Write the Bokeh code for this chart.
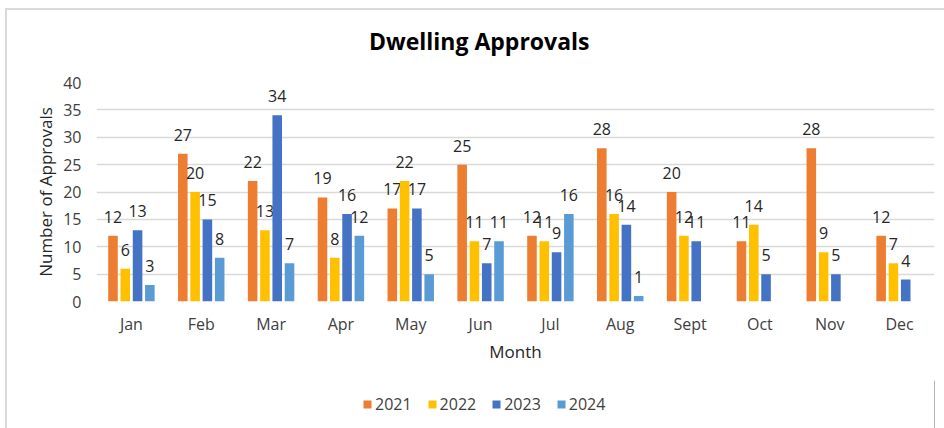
from bokeh.plotting import figure
from bokeh.layouts import column
from bokeh.models import (FactorRange, Range1d, ColumnDataSource, Legend,
                          LegendItem, FixedTicker, Div)
from bokeh.transform import dodge
from bokeh.core.properties import value
from bokeh.embed import file_html
from bokeh.resources import INLINE

months = ["Jan", "Feb", "Mar", "Apr", "May", "Jun", "Jul", "Aug", "Sept", "Oct", "Nov", "Dec"]
years = ["2021", "2022", "2023", "2024"]
v2021 = [12, 27, 22, 19, 17, 25, 12, 28, 20, 11, 28, 12]
v2022 = [6, 20, 13, 8, 22, 11, 11, 16, 12, 14, 9, 7]
v2023 = [13, 15, 34, 16, 17, 7, 9, 14, 11, 5, 5, 4]
v2024 = [3, 8, 7, 12, 5, 11, 16, 1, None, None, None, None]
y_ticks = [0, 5, 10, 15, 20, 25, 30, 35, 40]
title_text = "Dwelling Approvals"

colors = ["#ED7D31", "#FFC000", "#4472C4", "#5B9BD5"]
offsets = [-0.264, -0.088, 0.088, 0.264]
FONT = "Open Sans"

series = [v2021, v2022, v2023, v2024]
data = {"month": months}
for y, vals in zip(years, series):
    data["y" + y] = [float("nan") if v is None else v for v in vals]
    data["l" + y] = ["" if v is None else str(v) for v in vals]
source = ColumnDataSource(data)

# ---- title ----
title = Div(text=('<div style="padding:25px 0 0 369px; font-family:\'Open Sans\'; '
                  'font-weight:bold; font-size:23px; line-height:normal; color:#000000; '
                  'white-space:nowrap;">' + title_text + '</div>'),
            width=944, height=60, margin=0)

# ---- main chart ----
p = figure(width=944, height=320,
           x_range=FactorRange(*months), y_range=Range1d(0, 40),
           output_backend="svg", toolbar_location=None,
           min_border_left=96, min_border_right=10,
           min_border_top=22, min_border_bottom=79)
p.border_fill_alpha = 0
p.background_fill_color = "#ffffff"

for y, c, off in zip(years, colors, offsets):
    p.vbar(x=dodge("month", off, range=p.x_range), top="y" + y, width=0.137,
           source=source, fill_color=c, line_color=None)
    p.text(x=dodge("month", off, range=p.x_range), y="y" + y, text="l" + y,
           source=source, y_offset=-19, text_align="center", text_baseline="middle",
           text_font=value(FONT), text_font_size="16px", text_color="#262626")

p.outline_line_color = None
p.xgrid.grid_line_color = None
p.ygrid.grid_line_color = "#d9d9d9"
p.ygrid.grid_line_width = 1.5
p.ygrid.ticker = FixedTicker(ticks=y_ticks)

p.yaxis.ticker = FixedTicker(ticks=y_ticks)
for ax in (p.xaxis[0], p.yaxis[0]):
    ax.axis_line_color = None
    ax.major_tick_line_color = None
    ax.minor_tick_line_color = None
    ax.major_tick_out = 0
    ax.major_tick_in = 0
    ax.major_label_text_font = FONT
    ax.major_label_text_font_size = "16px"
    ax.major_label_text_color = "#404040"
    ax.axis_label_text_font = FONT
    ax.axis_label_text_font_size = "17px"
    ax.axis_label_text_font_style = "normal"
    ax.axis_label_text_color = "#262626"

p.xaxis.axis_label = "Month"
p.xaxis.major_label_standoff = 11
p.xaxis.axis_label_standoff = 2
p.yaxis.axis_label = "Number of Approvals"
p.yaxis.major_label_standoff = 15
p.yaxis.axis_label_standoff = 3

# ---- legend strip ----
leg = figure(width=944, height=48, x_range=Range1d(0, 1), y_range=Range1d(0, 1),
             x_axis_type=None, y_axis_type=None,
             output_backend="svg", toolbar_location=None,
             min_border=0, min_border_left=0, min_border_right=0,
             min_border_top=0, min_border_bottom=0)
leg.border_fill_alpha = 0
leg.background_fill_alpha = 0
leg.outline_line_color = None
leg.grid.grid_line_color = None
items = []
for y, c in zip(years, colors):
    r = leg.vbar(x=[5], top=[5], width=0.1, fill_color=c, line_color=None)
    items.append(LegendItem(label=y, renderers=[r]))
legend = Legend(items=items, orientation="horizontal", location=(266, 13),
                glyph_width=10, glyph_height=10, label_standoff=3, spacing=15,
                padding=0, margin=0, border_line_color=None, background_fill_alpha=0,
                label_text_font=FONT, label_text_font_size="16px",
                label_text_color="#404040", label_height=18)
leg.add_layout(legend)

layout = column(title, p, leg, spacing=0)
layout.styles = {"background": "linear-gradient(#d9d9d9, #d9d9d9) 5px 8px / 939px 2px no-repeat, "
                               "linear-gradient(#d9d9d9, #d9d9d9) 5px 8px / 2px 420px no-repeat, #ffffff"}

open("out.html", "w").write(file_html(layout, INLINE))
